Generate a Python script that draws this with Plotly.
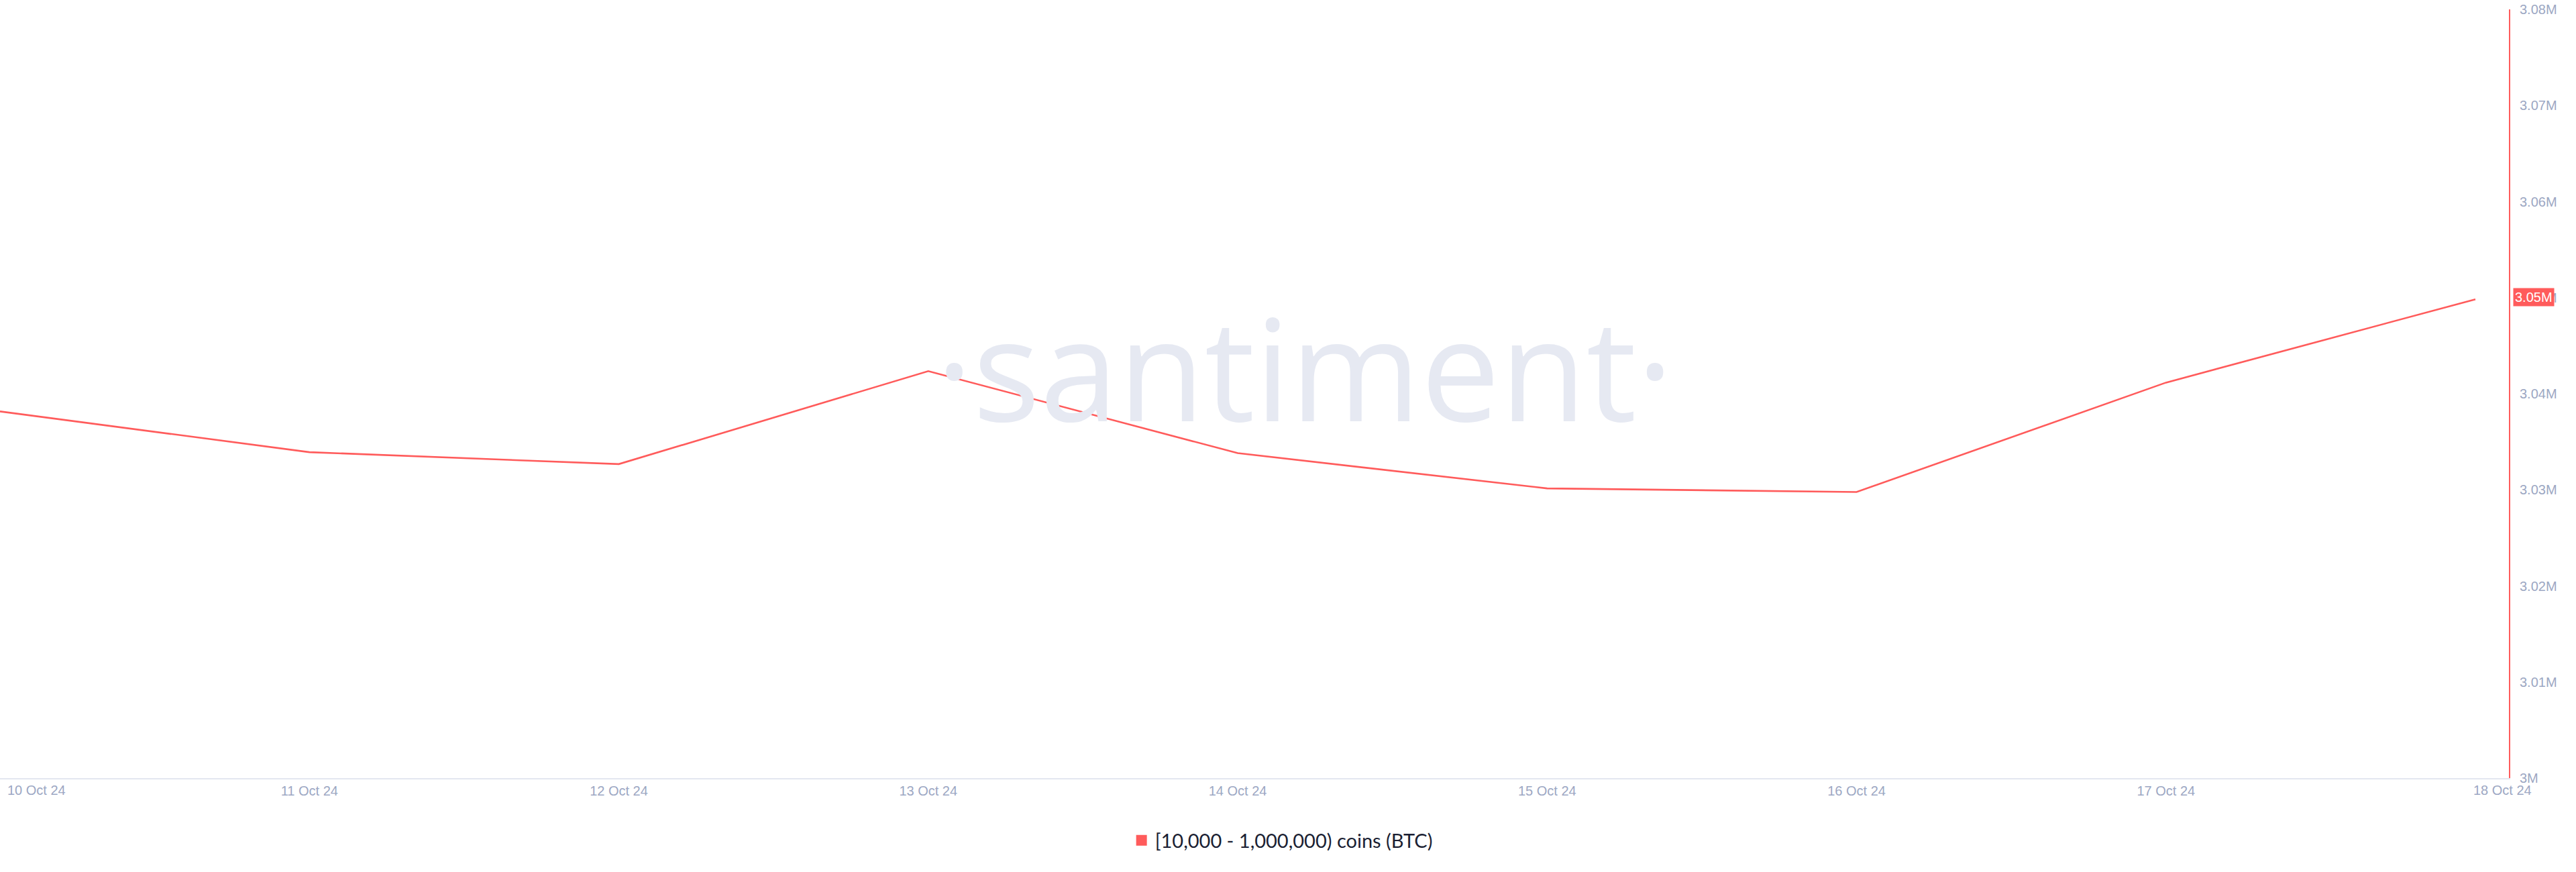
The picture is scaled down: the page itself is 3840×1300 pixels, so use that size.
import plotly.graph_objects as go

dates = ["2024-10-10", "2024-10-11", "2024-10-12", "2024-10-13", "2024-10-14",
         "2024-10-15", "2024-10-16", "2024-10-17", "2024-10-18"]
values = [3038160, 3033920, 3032680, 3042350, 3033820,
          3030150, 3029770, 3041160, 3049830]
date_labels = ["10 Oct 24", "11 Oct 24", "12 Oct 24", "13 Oct 24", "14 Oct 24",
               "15 Oct 24", "16 Oct 24", "17 Oct 24", "18 Oct 24"]
series_name = "[10,000 - 1,000,000) coins (BTC)"
last_label = "3.05M"

RED = "#ff5b5b"
TICK = "#9ca7c3"

fig = go.Figure()
fig.add_trace(go.Scatter(x=dates, y=values, mode="lines",
                         line=dict(color=RED, width=2.6), showlegend=False,
                         hoverinfo="skip"))
fig.add_trace(go.Scatter(x=[None], y=[None], mode="markers", name=series_name,
                         marker=dict(symbol="square", size=18, color=RED)))

annotations = [
    dict(text="·santiment·", x=0.52, y=0.535, xref="paper", yref="paper",
         xanchor="center", yanchor="middle", showarrow=False,
         font=dict(family="Open Sans", size=210, color="#e6e9f2")),
    dict(text=date_labels[0], x=dates[0], y=0, xref="x", yref="paper",
         xanchor="left", yanchor="top", xshift=9, yshift=-5, showarrow=False,
         font=dict(family="Liberation Sans", size=20, color=TICK)),
    dict(text=date_labels[-1], x=dates[-1], y=0, xref="x", yref="paper",
         xanchor="center", yanchor="top", xshift=40, yshift=-5, showarrow=False,
         font=dict(family="Liberation Sans", size=20, color=TICK)),
    dict(text=last_label, x=1, y=values[-1], xref="paper", yref="y",
         xanchor="left", yanchor="middle", xshift=6, yshift=3, showarrow=False,
         bgcolor=RED, borderpad=2,
         font=dict(family="Liberation Sans", size=20, color="white")),
]

fig.update_layout(
    width=3840, height=1300,
    margin=dict(l=0, r=100, t=14, b=140),
    paper_bgcolor="white", plot_bgcolor="white",
    xaxis=dict(range=["2024-10-10", "2024-10-18 02:36"],
               tickvals=dates[1:-1], ticktext=date_labels[1:-1],
               showgrid=False, zeroline=False,
               showline=True, linecolor="#e3e7f0", linewidth=2,
               ticks="", ticklabelstandoff=0,
               tickfont=dict(family="Liberation Sans", size=20, color=TICK)),
    yaxis=dict(side="right", range=[3000000, 3080000], dtick=10000,
               tickformat=".3~s", showgrid=False, zeroline=False,
               showline=True, linecolor=RED, linewidth=2,
               ticks="", ticklabelstandoff=10,
               tickfont=dict(family="Liberation Sans", size=20, color=TICK)),
    legend=dict(orientation="h", x=0.511, xanchor="center", y=-0.081,
                yanchor="middle", font=dict(family="Lato", size=29, color="#1b1f33"),
                bgcolor="rgba(0,0,0,0)"),
    annotations=annotations,
)

fig.write_html("out.html", config={"displayModeBar": False},
               post_script="document.body.style.margin='0';document.body.style.overflow='hidden';")
